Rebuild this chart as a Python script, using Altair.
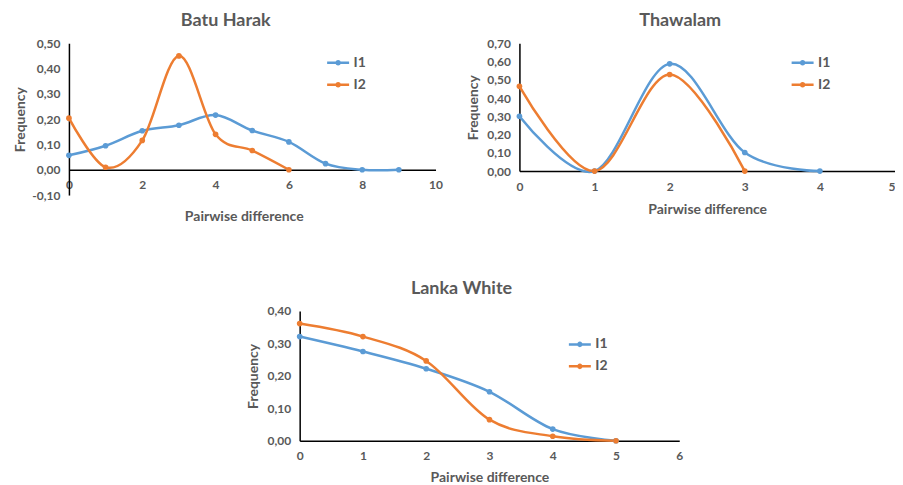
import altair as alt
import pandas as pd

FONT = "Lato"
GREY = "#595959"
SERIES = ["I1", "I2"]
COLORS = ["#5B9BD5", "#ED7D31"]
X_TITLE = "Pairwise difference"
Y_TITLE = "Frequency"

# Batu Harak
batu_x_i1 = [0, 1, 2, 3, 4, 5, 6, 7, 8, 9]
batu_y_i1 = [0.057, 0.095, 0.154, 0.176, 0.216, 0.155, 0.110, 0.024, 0.0, 0.0]
batu_x_i2 = [0, 1, 2, 3, 4, 5, 6]
batu_y_i2 = [0.204, 0.010, 0.116, 0.450, 0.140, 0.076, 0.0]
batu_xticks = [0, 2, 4, 6, 8, 10]
batu_yticks = [-0.1, 0.0, 0.1, 0.2, 0.3, 0.4, 0.5]

# Thawalam
thaw_x_i1 = [0, 1, 2, 3, 4]
thaw_y_i1 = [0.300, 0.0, 0.587, 0.102, 0.0]
thaw_x_i2 = [0, 1, 2, 3]
thaw_y_i2 = [0.464, 0.0, 0.529, 0.0]
thaw_xticks = [0, 1, 2, 3, 4, 5]
thaw_yticks = [0.0, 0.1, 0.2, 0.3, 0.4, 0.5, 0.6, 0.7]

# Lanka White
lanka_x_i1 = [0, 1, 2, 3, 4, 5]
lanka_y_i1 = [0.321, 0.275, 0.222, 0.151, 0.036, 0.0]
lanka_x_i2 = [0, 1, 2, 3, 4, 5]
lanka_y_i2 = [0.361, 0.321, 0.246, 0.065, 0.014, 0.0]
lanka_xticks = [0, 1, 2, 3, 4, 5, 6]
lanka_yticks = [0.0, 0.1, 0.2, 0.3, 0.4]

SYMBOL = "M-1,0L1,0M-0.14,0A0.14,0.14,0,1,1,0.14,0A0.14,0.14,0,1,1,-0.14,0"
YLABEL = "replace(replace(format(datum.value, '.2f'), '.', ','), '\u2212', '-')"


def long_df(x1, y1, x2, y2):
    rows = [{"x": a, "y": b, "series": "I1"} for a, b in zip(x1, y1)]
    rows += [{"x": a, "y": b, "series": "I2"} for a, b in zip(x2, y2)]
    return pd.DataFrame(rows)


def panel(df, title, title_dx, xdom, xticks, ydom, yticks, w, h, x_offset,
          x_title_x, x_title_y, y_title_x, leg_x, leg_y, last_right=False):
    color = alt.Color(
        "series:N",
        scale=alt.Scale(domain=SERIES, range=COLORS),
        legend=alt.Legend(
            title=None, orient="none", legendX=leg_x, legendY=leg_y,
            symbolType=SYMBOL, symbolSize=484, symbolStrokeWidth=2.5,
            labelFont=FONT, labelFontSize=14, labelColor=GREY,
            labelFontWeight="bold", labelOffset=3, rowPadding=2, padding=0,
        ),
    )
    xaxis = dict(
        values=xticks, format="d", title=X_TITLE, offset=x_offset, grid=False,
        ticks=False, labelPadding=10, labelFlush=False, labelOverlap=False,
        titleX=x_title_x, titleY=x_title_y, titleBaseline="middle",
    )
    if last_right:
        xaxis["labelAlign"] = {
            "condition": {"test": f"datum.value >= {xdom[1]}", "value": "right"},
            "value": "center",
        }
    x = alt.X(
        "x:Q",
        scale=alt.Scale(domain=xdom, nice=False, zero=False),
        axis=alt.Axis(**xaxis),
    )
    y = alt.Y(
        "y:Q",
        scale=alt.Scale(domain=ydom, nice=False, zero=False),
        axis=alt.Axis(
            values=yticks, labelExpr=YLABEL, title=Y_TITLE, grid=False, ticks=False,
            labelPadding=9, titleX=y_title_x, titleY=h / 2,
            titleBaseline="middle",
        ),
    )
    base = alt.Chart(df).encode(x=x, y=y, color=color)
    line = base.mark_line(interpolate="cardinal", strokeWidth=2.5)
    pts = base.mark_point(filled=True, size=32, opacity=1)
    return alt.layer(line, pts).properties(
        width=w, height=h,
        title=alt.Title(text=title, dx=title_dx, offset=-7,
                        baseline="alphabetic", frame="group", anchor="middle"),
    )


batu = panel(long_df(batu_x_i1, batu_y_i1, batu_x_i2, batu_y_i2), "Batu Harak", -26.5,
             [0, 10], batu_xticks, [-0.1, 0.5], batu_yticks, 367, 152, -25.33,
             175, 47, -48.5, 257, 7)
thaw = panel(long_df(thaw_x_i1, thaw_y_i1, thaw_x_i2, thaw_y_i2), "Thawalam", -27,
             [0, 5], thaw_xticks, [0, 0.7], thaw_yticks, 376, 128, 0,
             188, 38, -46, 271, 7, last_right=True)
lanka = panel(long_df(lanka_x_i1, lanka_y_i1, lanka_x_i2, lanka_y_i2), "Lanka White", -28,
              [0, 6], lanka_xticks, [0, 0.4], lanka_yticks, 380, 130, 0,
              190, 37, -46, 268, 21)

spacer = alt.Chart(pd.DataFrame({"v": [0]})).mark_point(opacity=0).properties(width=147, height=1)

top_row = alt.hconcat(batu, thaw, spacing=84, bounds="flush").resolve_scale(color="independent")
bottom_row = alt.hconcat(spacer, lanka, spacing=84, bounds="flush").resolve_scale(color="independent")

chart = alt.vconcat(
    top_row, bottom_row, spacing=56,
    padding={"left": 5, "top": 4, "right": 0, "bottom": 0},
).resolve_scale(color="independent").configure_view(
    strokeWidth=0
).configure_axis(
    labelFont=FONT, titleFont=FONT, labelColor=GREY, titleColor=GREY,
    labelFontSize=12, titleFontSize=14, labelFontWeight="bold", titleFontWeight="bold",
    grid=False, ticks=False, domainColor="#000000", domainWidth=1.5,
).configure_title(
    font=FONT, fontSize=18, color=GREY, fontWeight="bold"
)

chart.save("out.html", embed_options={"renderer": "svg", "actions": False})
